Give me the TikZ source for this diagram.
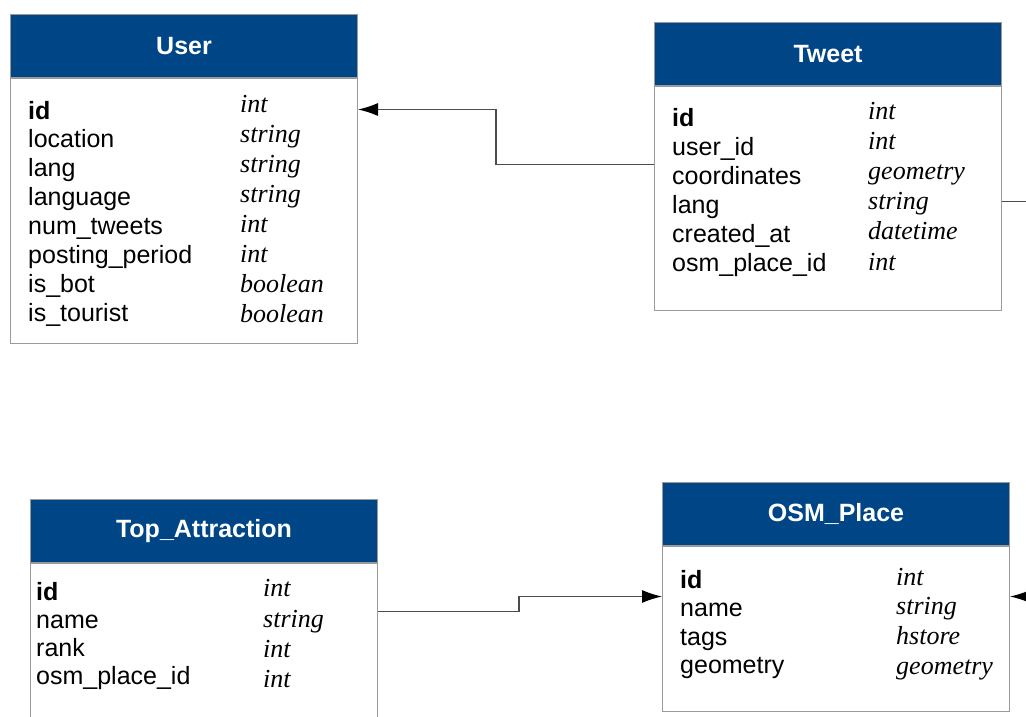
\documentclass[tikz,border=0pt]{standalone}
\usepackage{fontspec}
\setmainfont{Liberation Sans}
\newfontfamily\typefont{Liberation Serif}
\usetikzlibrary{positioning,arrows.meta}
\definecolor{hdrblue}{HTML}{004586}
\definecolor{boxgray}{HTML}{9A9A9A}

\begin{document}
\begin{tikzpicture}[x=1pt,y=-1pt,>={Latex[length=20pt,width=13pt,color=black]}]
  \tikzset{
    head/.style={rectangle, fill=hdrblue, draw=boxgray, line width=1pt, minimum width=347pt, minimum height=63pt, inner sep=0pt, text=white, font=\fontsize{25}{30}\selectfont\bfseries},
    body/.style={rectangle, draw=boxgray, line width=1pt, minimum width=347pt, inner sep=0pt},
    fld/.style={anchor=base west, inner sep=0pt, font=\fontsize{25}{30}\selectfont},
    typ/.style={anchor=base west, inner sep=0pt, font=\fontsize{26}{30}\selectfont\typefont\itshape},
    link/.style={->, draw=black!70, line width=1.2pt},
  }
  \useasboundingbox (0,0) rectangle (1026,717);
  \clip (0,0) rectangle (1026,717);

  % User
  \node (uh) at (10,14) [head, anchor=north west] {User};
  \node (u) [body, minimum height=265pt, below=0pt of uh] {};
  \foreach \fname [count=\i from 0] in {\textbf{id}, location, lang, language, num\_tweets, posting\_period, is\_bot, is\_tourist}
    \node (uf\i) at (28, 119+28.9*\i) [fld] {\fname};
  \foreach \ftype [count=\i from 0] in {int, string, string, string, int, int, boolean, boolean}
    \node (ut\i) at (240, 112+30.1*\i) [typ] {\ftype};

  % Tweet
  \node (twh) at (654,22) [head, anchor=north west] {Tweet};
  \node (tw) [body, minimum height=224pt, below=0pt of twh] {};
  \foreach \fname [count=\i from 0] in {\textbf{id}, user\_id, coordinates, lang, created\_at, osm\_place\_id}
    \node (twf\i) at (672, 126.7+28.9*\i) [fld] {\fname};
  \foreach \ftype [count=\i from 0] in {int, int, geometry, string, datetime, int}
    \node (twt\i) at (868, 119+30.2*\i) [typ] {\ftype};

  % Top_Attraction
  \node (tah) at (30,499) [head, anchor=north west] {Top\_Attraction};
  \node (ta) [body, minimum height=175pt, below=0pt of tah] {};
  \foreach \fname [count=\i from 0] in {\textbf{id}, name, rank, osm\_place\_id}
    \node (taf\i) at (36, 600+28.3*\i) [fld] {\fname};
  \foreach \ftype [count=\i from 0] in {int, string, int, int}
    \node (tat\i) at (263, 596.7+30.3*\i) [typ] {\ftype};

  % OSM_Place
  \node (oph) at (662,482) [head, anchor=north west] {OSM\_Place};
  \node (op) [body, minimum height=165pt, below=0pt of oph] {};
  \foreach \fname [count=\i from 0] in {\textbf{id}, name, tags, geometry}
    \node (opf\i) at (680, 588.3+28.4*\i) [fld] {\fname};
  \foreach \ftype [count=\i from 0] in {int, string, hstore, geometry}
    \node (opt\i) at (896, 585+29.8*\i) [typ] {\ftype};

  % links
  \draw[link] ([yshift=34pt]tw.west) -| ([xshift=138pt,yshift=101.5pt]u.east) -- ([yshift=101.5pt]u.east);
  \draw[link] ([yshift=39.5pt]ta.east) -| ([xshift=-143pt,yshift=32.5pt]op.west) -- ([yshift=32.5pt]op.west);
  \draw[link] ([yshift=-3pt]tw.east) -| ([xshift=30pt,yshift=32.5pt]op.east) -- ([yshift=32.5pt]op.east);
\end{tikzpicture}
\end{document}
